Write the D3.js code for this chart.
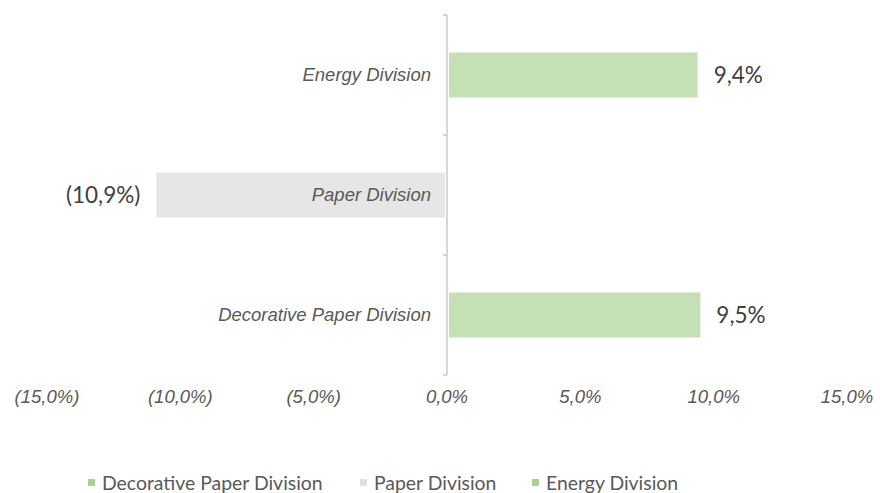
<!DOCTYPE html>
<html>
<head>
<meta charset="utf-8">
<script src="https://cdn.jsdelivr.net/npm/d3@7"></script>
<style>
  body { margin: 0; background: #fff; }
</style>
</head>
<body>
<div id="grafica"></div>
<script>
// datos del grafico
const categories = ["Energy Division", "Paper Division", "Decorative Paper Division"]
const values = [9.4, -10.9, 9.5]
const valueLabels = ["9,4%", "(10,9%)", "9,5%"]
const tickValues = [-15, -10, -5, 0, 5, 10, 15]
const tickLabels = ["(15,0%)", "(10,0%)", "(5,0%)", "0,0%", "5,0%", "10,0%", "15,0%"]
const legendItems = ["Decorative Paper Division", "Paper Division", "Energy Division"]

const colorOf = {
  "Energy Division": "#c5e0b4",
  "Paper Division": "#e6e6e6",
  "Decorative Paper Division": "#c5e0b4"
}

let width = 880
let height = 493

const xScale = d3.scaleLinear()
  .domain([-15, 15])
  .range([47, 847])

const yScale = d3.scaleBand()
  .domain(categories)
  .range([15, 375])
  .paddingInner(0.625)
  .paddingOuter(0.3125)

const svg = d3.select('#grafica')
  .append("svg")
  .attr("width", width)
  .attr("height", height)

// barras
svg.selectAll("rect.bar")
  .data(categories)
  .enter()
  .append("rect")
  .attr("class", "bar")
  .attr("x", (d, i) => Math.min(xScale(0), xScale(values[i])) + (values[i] > 0 ? 2 : 0))
  .attr("width", (d, i) => Math.abs(xScale(values[i]) - xScale(0)) - 2)
  .attr("y", d => yScale(d))
  .attr("height", yScale.bandwidth())
  .attr("fill", d => colorOf[d])

// eje vertical con marcas
svg.append("line")
  .attr("x1", xScale(0)).attr("x2", xScale(0))
  .attr("y1", 15).attr("y2", 375)
  .attr("stroke", "#c8c8c8")
  .attr("stroke-width", 1.5)

const bounds = [0, 1, 2, 3].map(i => 15 + i * 120)
svg.selectAll("line.tick")
  .data(bounds)
  .enter()
  .append("line")
  .attr("x1", xScale(0) - 4).attr("x2", xScale(0))
  .attr("y1", d => d).attr("y2", d => d)
  .attr("stroke", "#c8c8c8")
  .attr("stroke-width", 1.5)

// etiquetas de categoria
svg.selectAll("text.cat")
  .data(categories)
  .enter()
  .append("text")
  .attr("x", xScale(0) - 16)
  .attr("y", d => yScale(d) + yScale.bandwidth() / 2)
  .attr("dy", "0.35em")
  .attr("text-anchor", "end")
  .attr("font-family", "Liberation Sans, Arial, sans-serif")
  .attr("font-style", "italic")
  .attr("font-size", 18.5)
  .attr("fill", "#595959")
  .text(d => d)

// etiquetas de valor
svg.selectAll("text.val")
  .data(categories)
  .enter()
  .append("text")
  .attr("x", (d, i) => values[i] > 0 ? xScale(values[i]) + 16 : xScale(values[i]) - 16)
  .attr("y", d => yScale(d) + yScale.bandwidth() / 2)
  .attr("dy", "0.35em")
  .attr("text-anchor", (d, i) => values[i] > 0 ? "start" : "end")
  .attr("font-family", "Lato, Open Sans, sans-serif")
  .attr("font-size", 22.5)
  .attr("fill", "#404040")
  .text((d, i) => valueLabels[i])

// eje x (solo etiquetas)
svg.selectAll("text.xtick")
  .data(tickValues)
  .enter()
  .append("text")
  .attr("x", d => xScale(d))
  .attr("y", 397)
  .attr("dy", "0.35em")
  .attr("text-anchor", "middle")
  .attr("font-family", "Liberation Sans, Arial, sans-serif")
  .attr("font-style", "italic")
  .attr("font-size", 18.5)
  .attr("fill", "#595959")
  .text((d, i) => tickLabels[i])

// leyenda
const legendX = [88, 360, 532]
const legend = svg.selectAll("g.legend")
  .data(legendItems)
  .enter()
  .append("g")
  .attr("transform", (d, i) => "translate(" + legendX[i] + ",483)")

legend.append("rect")
  .attr("x", 0).attr("y", -4)
  .attr("width", 7).attr("height", 7)
  .attr("fill", d => colorOf[d] === "#e6e6e6" ? "#e0e0e0" : "#a9d18e")

legend.append("text")
  .attr("x", 14)
  .attr("dy", "0.35em")
  .attr("font-family", "Lato, Open Sans, sans-serif")
  .attr("font-size", 19.4)
  .attr("fill", "#595959")
  .text(d => d)
</script>
</body>
</html>
